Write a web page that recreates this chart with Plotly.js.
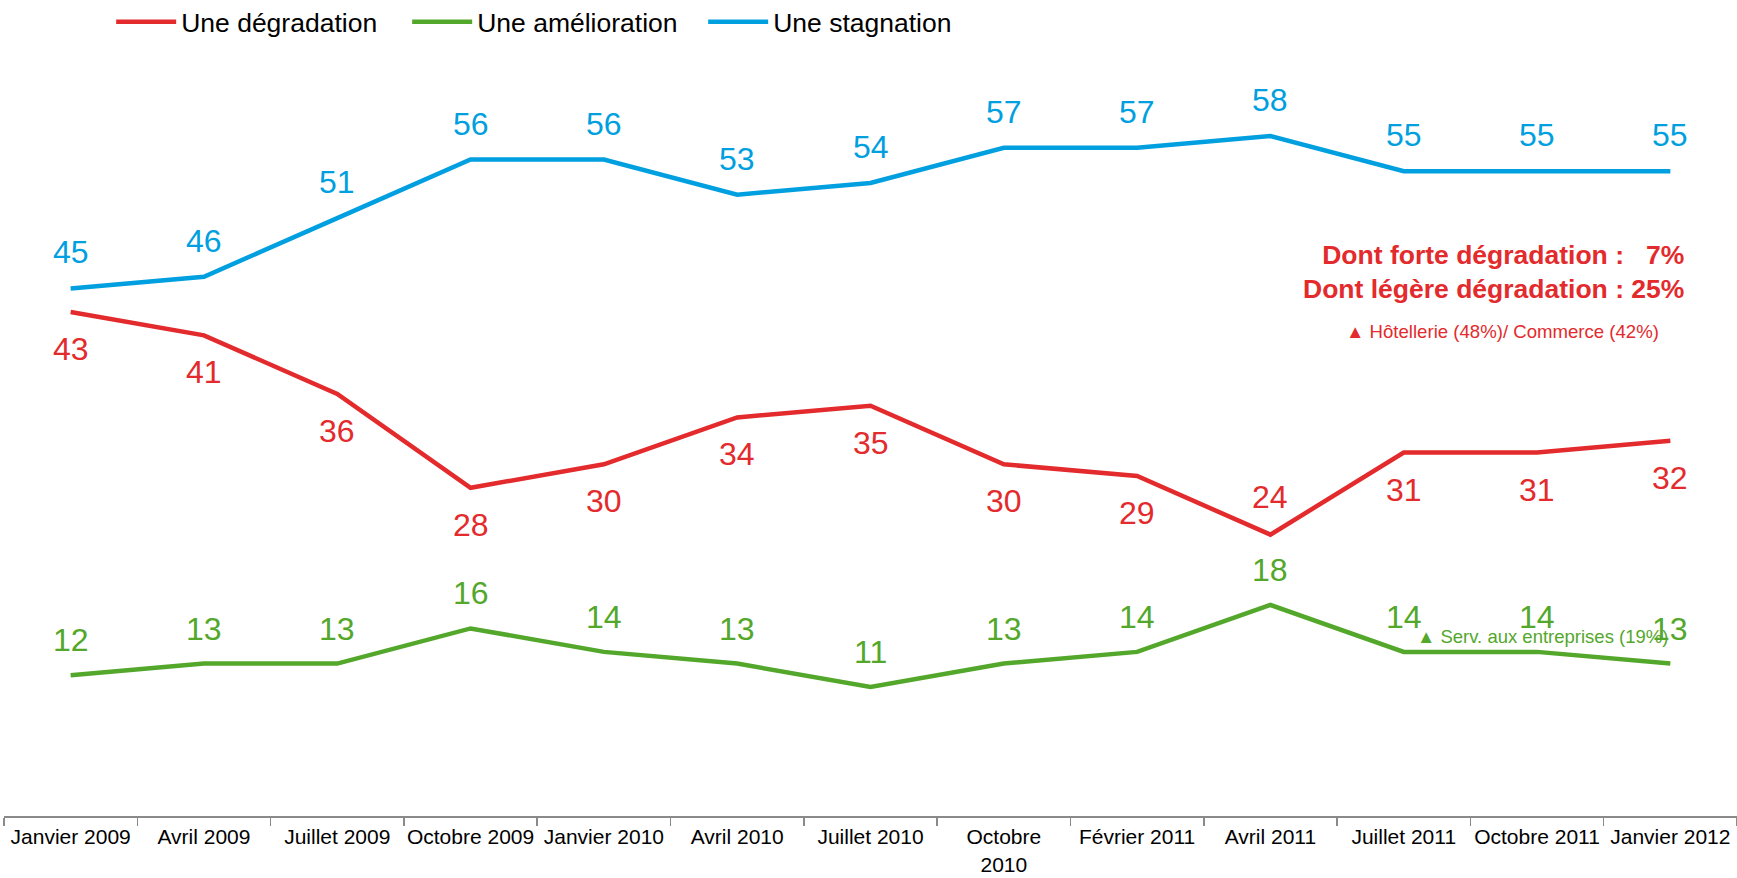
<!DOCTYPE html>
<html>
<head>
<meta charset="utf-8">
<script src="https://cdn.plot.ly/plotly-3.0.1.min.js"></script>
<style>
html,body{margin:0;padding:0;background:#fff;}
#chart{width:1737px;height:878px;}
</style>
</head>
<body>
<div id="chart"></div>
<script>
// ---- data ----
const categories = ["Janvier 2009","Avril 2009","Juillet 2009","Octobre 2009","Janvier 2010","Avril 2010","Juillet 2010","Octobre<br>2010","Février 2011","Avril 2011","Juillet 2011","Octobre 2011","Janvier 2012"];
const degradation  = [43,41,36,28,30,34,35,30,29,24,31,31,32];
const amelioration = [12,13,13,16,14,13,11,13,14,18,14,14,13];
const stagnation   = [45,46,51,56,56,53,54,57,57,58,55,55,55];
const seriesNames = ["Une dégradation","Une amélioration","Une stagnation"];
const noteDetail = "Dont forte dégradation :&nbsp;&nbsp;&nbsp;7%<br>Dont légère dégradation : 25%";
const noteRed = "▲ Hôtellerie (48%)/ Commerce (42%)";
const noteGreen = "▲ Serv. aux entreprises (19%)";

// ---- style ----
const RED = "#E32A2C", GREEN = "#53A72B", BLUE = "#009FE0";
const FONT = "Liberation Sans, Arial, sans-serif";

function lineTrace(name, y, color){
  return {type:"scatter", mode:"lines", name:name, x:categories, y:y,
    line:{color:color, width:4.5}, hoverinfo:"skip"};
}
const traces = [
  lineTrace(seriesNames[0], degradation, RED),
  lineTrace(seriesNames[1], amelioration, GREEN),
  lineTrace(seriesNames[2], stagnation, BLUE)
];

const annotations = [];
function addLabels(y, color, shiftFn){
  y.forEach((v,i)=>{
    annotations.push({x:categories[i], y:v, xref:"x", yref:"y", text:String(v),
      showarrow:false, yshift:shiftFn(v,i), xanchor:"center", yanchor:"middle",
      font:{family:FONT, size:32, color:color}});
  });
}
addLabels(stagnation, BLUE, ()=>36);
addLabels(amelioration, GREEN, ()=>35);
addLabels(degradation, RED, (v,i)=> (v===Math.min(...degradation)) ? 38 : -37);

annotations.push({xref:"paper", yref:"paper", x:0.9703, y:0.714, xanchor:"right", yanchor:"middle",
  align:"right", showarrow:false, text:"<b>"+noteDetail+"</b>",
  font:{family:FONT, size:26.5, color:RED}});
annotations.push({xref:"paper", yref:"paper", x:0.8644, y:0.636, xanchor:"center", yanchor:"middle",
  showarrow:false, text:noteRed, font:{family:FONT, size:18.6, color:RED}});
annotations.push({xref:"paper", yref:"paper", x:0.814, y:0.235, xanchor:"left", yanchor:"middle",
  showarrow:false, text:noteGreen, font:{family:FONT, size:18.5, color:GREEN}});

const layout = {
  width:1737, height:878,
  paper_bgcolor:"#fff", plot_bgcolor:"#fff",
  margin:{l:4, r:0, t:54, b:62},
  font:{family:FONT, color:"#000"},
  showlegend:true,
  legend:{orientation:"h", xref:"container", yref:"container", x:0.064, y:0.975,
    xanchor:"left", yanchor:"middle", font:{family:FONT, size:26.5, color:"#000"},
    itemwidth:60, entrywidth:221, entrywidthmode:"pixels", bgcolor:"rgba(0,0,0,0)"},
  xaxis:{type:"category", range:[-0.5,12.5], showgrid:false, zeroline:false,
    showline:true, linecolor:"#8a8a8a", linewidth:2,
    ticks:"outside", tickson:"boundaries", ticklen:8, tickwidth:1.5, tickcolor:"#8a8a8a",
    ticklabelstandoff:1, tickangle:0,
    tickfont:{family:FONT, size:21, color:"#000"}, fixedrange:true},
  yaxis:{range:[0,65], visible:false, showgrid:false, zeroline:false, fixedrange:true},
  annotations:annotations
};

Plotly.newPlot("chart", traces, layout, {staticPlot:true, displayModeBar:false});
</script>
</body>
</html>
